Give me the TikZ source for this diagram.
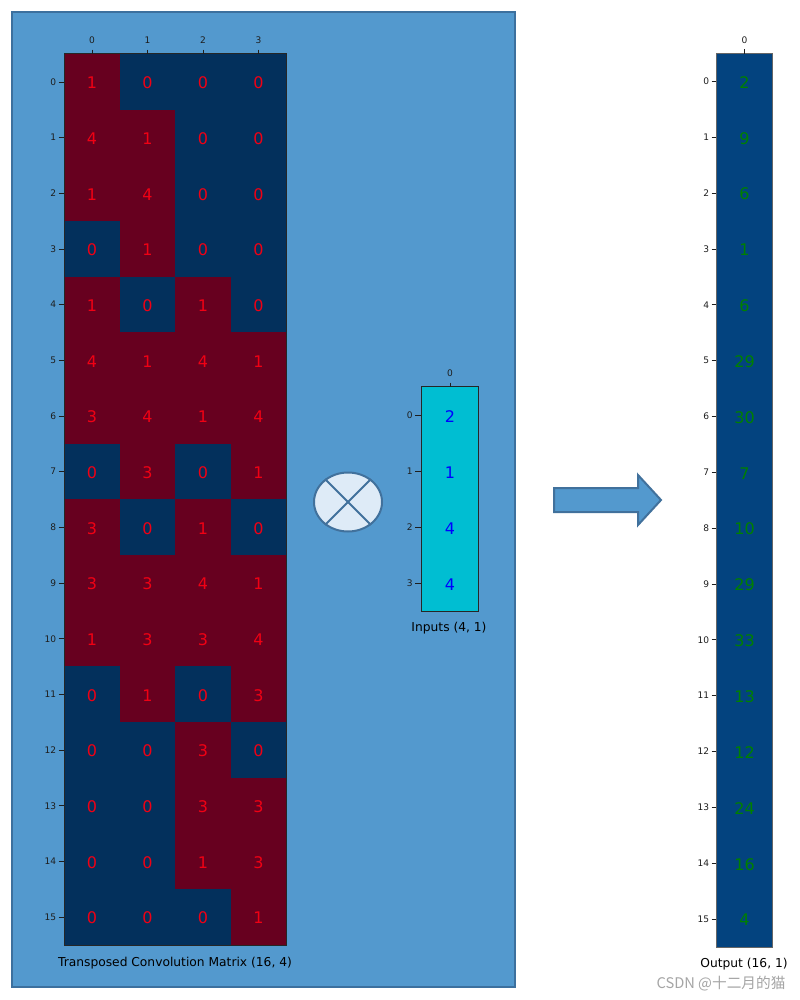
\documentclass[tikz,border=0pt]{standalone}
\usepackage{fontspec}
\setmainfont{DejaVu Sans}
\newfontfamily\cjkfont{Noto Sans CJK SC}
\usetikzlibrary{shapes.geometric}
\definecolor{panelfill}{RGB}{83,153,206}
\definecolor{panelborder}{RGB}{60,112,158}
\definecolor{rdred}{RGB}{103,0,31}
\definecolor{rdblue}{RGB}{3,48,92}
\definecolor{valred}{RGB}{240,0,20}
\definecolor{cyanbox}{RGB}{0,190,210}
\definecolor{outblue}{RGB}{3,67,127}
\definecolor{valgreen}{RGB}{0,128,0}
\definecolor{valblue}{RGB}{0,0,255}
\definecolor{circfill}{RGB}{222,235,247}
\definecolor{shapeborder}{RGB}{65,113,156}
\definecolor{wmgray}{RGB}{165,165,165}
\definecolor{ticktext}{RGB}{30,30,30}
\tikzset{
  cellbox/.style={inner sep=0pt, minimum width=41.625pt, minimum height=41.77pt, text=valred, font=\fontsize{12}{14}\selectfont},
  inbox/.style={inner sep=0pt, minimum width=42pt, minimum height=42pt, fill=cyanbox, text=valblue, font=\fontsize{12}{14}\selectfont},
  outbox/.style={inner sep=0pt, minimum width=41.25pt, minimum height=41.88pt, fill=outblue, draw=outblue, line width=0.2pt, text=valgreen, font=\fontsize{12}{14}\selectfont},
  ticklab/.style={font=\fontsize{6.8}{8}\selectfont, inner sep=0.5pt, text=ticktext},
  tickmark/.style={line width=0.5pt, draw=ticktext},
  caption/.style={font=\fontsize{9.2}{11}\selectfont, inner sep=0pt, text=black},
  frame/.style={draw=black!85, line width=0.6pt},
  shapeline/.style={draw=shapeborder, line width=1.5pt},
}
\begin{document}
\begin{tikzpicture}[x=0.75pt,y=-0.75pt]
\useasboundingbox (0,0) rectangle (800,1000);
\fill[white] (0,0) rectangle (800,1000);
% panel
\draw[fill=panelfill, draw=panelborder, line width=1.5pt] (12,12) rectangle (515,987);

% transposed convolution matrix
\foreach \r/\pa/\pb/\pc/\pd in {0/1/0/0/0, 1/4/1/0/0, 2/1/4/0/0, 3/0/1/0/0, 4/1/0/1/0, 5/4/1/4/1, 6/3/4/1/4, 7/0/3/0/1, 8/3/0/1/0, 9/3/3/4/1, 10/1/3/3/4, 11/0/1/0/3, 12/0/0/3/0, 13/0/0/3/3, 14/0/0/1/3, 15/0/0/0/1}{
  \foreach \cc/\v in {0/\pa,1/\pb,2/\pc,3/\pd}{
    \ifnum\v=0 \def\cellcol{rdblue}\else\def\cellcol{rdred}\fi
    \node[cellbox, fill=\cellcol, draw=\cellcol, line width=0.2pt] (m-\r-\cc) at ({92+55.5*\cc},{81.84+55.6875*\r}) {};
  }
  \node[ticklab, anchor=east] (mr-\r) at (57,{81.84+55.6875*\r}) {\r};
  \draw[tickmark] (58.5,{81.84+55.6875*\r}) -- (64,{81.84+55.6875*\r});
}
\foreach \r/\pa/\pb/\pc/\pd in {0/1/0/0/0, 1/4/1/0/0, 2/1/4/0/0, 3/0/1/0/0, 4/1/0/1/0, 5/4/1/4/1, 6/3/4/1/4, 7/0/3/0/1, 8/3/0/1/0, 9/3/3/4/1, 10/1/3/3/4, 11/0/1/0/3, 12/0/0/3/0, 13/0/0/3/3, 14/0/0/1/3, 15/0/0/0/1}{
  \foreach \cc/\v in {0/\pa,1/\pb,2/\pc,3/\pd}{
    \node[cellbox] (mv-\r-\cc) at ([yshift=-0.75pt]m-\r-\cc) {\v};
  }
}
\draw[frame] (m-0-0.north west) rectangle (m-15-3.south east);
\foreach \cc in {0,...,3}{
  \node[ticklab] (mc-\cc) at ({92+55.5*\cc},40) {\cc};
  \draw[tickmark] ({92+55.5*\cc},49.5) -- ({92+55.5*\cc},54);
}
\node[caption] (mcap) at (175,963) {Transposed Convolution Matrix (16, 4)};

% multiplication sign
\node[ellipse, draw=shapeborder, fill=circfill, line width=1.5pt, minimum width=51pt, minimum height=44.25pt, inner sep=0pt] (otimes) at (348,502) {};
\draw[shapeline] (otimes.45) -- (otimes.225);
\draw[shapeline] (otimes.135) -- (otimes.315);

% inputs
\foreach \r/\v in {0/2,1/1,2/4,3/4}{
  \node[inbox] (in-\r) at (450,{415+56*\r}) {};
  \node[text=valblue, font=\fontsize{12}{14}\selectfont, inner sep=0pt] (inv-\r) at ([yshift=-1.5pt]in-\r) {\v};
  \node[ticklab, anchor=east] (inr-\r) at (413.5,{415+56*\r}) {\r};
  \draw[tickmark] (415,{415+56*\r}) -- (422,{415+56*\r});
}
\draw[frame] (in-0.north west) rectangle (in-3.south east);
\node[ticklab] (inc-0) at (450,373) {0};
\draw[tickmark] (450,382.5) -- (450,387);
\node[caption] (incap) at (449,628) {Inputs (4, 1)};

% block arrow
\draw[fill=panelfill, shapeline] (554,488) -- (638,488) -- (638,475) -- (661,500) -- (638,525) -- (638,512) -- (554,512) -- cycle;

% output
\foreach \r/\v in {0/2,1/9,2/6,3/1,4/6,5/29,6/30,7/7,8/10,9/29,10/33,11/13,12/12,13/24,14/16,15/4}{
  \node[outbox] (out-\r) at (744.5,{81.42+55.84*\r}) {};
  \node[text=valgreen, font=\fontsize{12}{14}\selectfont, inner sep=0pt] (outv-\r) at ([yshift=-0.75pt]out-\r) {\v};
  \node[ticklab, anchor=east] (outr-\r) at (710,{81.42+55.84*\r}) {\r};
  \draw[tickmark] (711.5,{81.42+55.84*\r}) -- (717,{81.42+55.84*\r});
}
\draw[frame, draw=black!60] (out-0.north west) rectangle (out-15.south east);
\node[ticklab] (outc-0) at (744.5,40) {0};
\draw[tickmark] (744.5,49) -- (744.5,53.5);
\node[caption] (outcap) at (744,964) {Output (16, 1)};

% watermark
\node[font=\cjkfont\fontsize{11}{13}\selectfont, text=wmgray, inner sep=0pt] (wm) at (721,984) {CSDN @十二月的猫};
\end{tikzpicture}
\end{document}
